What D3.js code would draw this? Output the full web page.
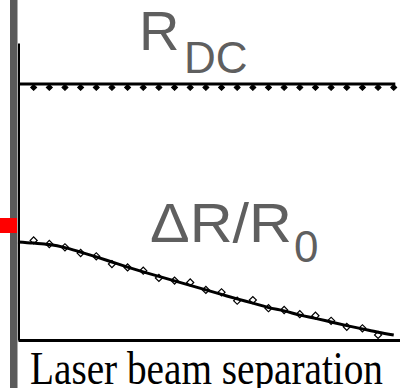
<!DOCTYPE html>
<html>
<head>
<meta charset="utf-8">
<script src="https://cdn.jsdelivr.net/npm/d3@7"></script>
<style>
  html, body { margin: 0; padding: 0; background: #fff; }
  svg { display: block; }
</style>
</head>
<body>
<svg id="chart" width="400" height="388"></svg>
<script>
// separation steps (arbitrary units)
const sepPoints = [1, 2, 3, 4, 5, 6, 7, 8, 9, 10, 11, 12, 13, 14, 15, 16, 17, 18, 19, 20, 21, 22, 23, 24];
const fitSteps = [0, 1, 2, 3, 4, 5, 6, 7, 8, 9, 10, 11, 12, 13, 14, 15, 16, 17, 18, 19, 20, 21, 22, 23, 24];

// R_DC measured and fitted (flat)
const rdcValues = [84.2, 84.2, 84.2, 84.2, 84.2, 84.2, 84.2, 84.2, 84.2, 84.2, 84.2, 84.2,
                   84.2, 84.2, 84.2, 84.2, 84.2, 84.2, 84.2, 84.2, 84.2, 84.2, 84.2, 84.2];
const rdcFit = [{ x: 0, y: 85.3 }, { x: 24.1, y: 85.3 }];

// dR/R0 measured (23 points) and fitted curve
const drValues = [33.2, 32.0, 30.9, 29.0, 27.9, 25.3, 24.2, 23.1, 20.7, 19.8, 19.2, 16.7,
                  15.9, 13.1, 13.3, 10.6, 10.0, 8.6, 8.1, 6.4, 4.4, 3.9, 1.7];
const drFit = [32.7, 32.3, 31.8, 30.8, 29.3, 27.7, 26.0, 24.3, 22.7, 21.2, 19.7, 18.2, 16.7,
               15.2, 13.7, 12.3, 10.8, 9.7, 8.3, 7.2, 6.0, 4.8, 3.7, 2.6, 1.7];

const xLabel = 'Laser beam separation';

const svg = d3.select('#chart');

const x = d3.scaleLinear().domain([0, 24.4]).range([18, 400]);
const y = d3.scaleLinear().domain([0, 99]).range([340, 43]);

// gray frame bar on the left
svg.append('rect')
  .attr('x', 10).attr('y', 0)
  .attr('width', 7.5).attr('height', 388)
  .attr('fill', '#5a5a5a');

// axes (no ticks)
svg.append('g')
  .attr('transform', 'translate(18.5,0)')
  .call(d3.axisLeft(y).tickValues([]).tickSizeOuter(0))
  .select('.domain').attr('stroke', '#000').attr('stroke-width', 2);

svg.append('g')
  .attr('transform', 'translate(0,340)')
  .call(d3.axisBottom(x).tickValues([]).tickSizeOuter(0))
  .select('.domain').attr('stroke', '#000').attr('stroke-width', 3);

// red marker on the left
svg.append('rect')
  .attr('x', 0).attr('y', 218)
  .attr('width', 17).attr('height', 15)
  .attr('fill', '#ff0000');

const diamond = d3.symbol().type(d3.symbolSquare).size(25);
const smallDiamond = d3.symbol().type(d3.symbolSquare).size(18);

// R_DC markers then line
svg.append('g')
  .selectAll('path')
  .data(rdcValues)
  .join('path')
  .attr('d', smallDiamond)
  .attr('transform', (d, i) => `translate(${x(sepPoints[i])},${y(d)}) rotate(45)`)
  .attr('fill', '#000')
  .attr('stroke', '#000')
  .attr('stroke-width', 1);

svg.append('path')
  .datum(rdcFit)
  .attr('d', d3.line().x(d => x(d.x)).y(d => y(d.y)))
  .attr('fill', 'none')
  .attr('stroke', '#000')
  .attr('stroke-width', 3);

// dR/R0 markers then fit
svg.append('g')
  .selectAll('path')
  .data(drValues)
  .join('path')
  .attr('d', diamond)
  .attr('transform', (d, i) => `translate(${x(sepPoints[i])},${y(d)}) rotate(45)`)
  .attr('fill', '#fff')
  .attr('stroke', '#000')
  .attr('stroke-width', 1.2);

svg.append('path')
  .datum(drFit)
  .attr('d', d3.line().x((d, i) => x(fitSteps[i])).y(d => y(d)).curve(d3.curveMonotoneX))
  .attr('fill', 'none')
  .attr('stroke', '#000')
  .attr('stroke-width', 3);

// labels
const gray = '#5f5f5f';
const rdc = svg.append('text')
  .attr('font-family', '"Liberation Sans", Arial, sans-serif')
  .attr('fill', gray);
rdc.append('tspan').attr('x', 139).attr('y', 50).attr('font-size', 56).text('R');
rdc.append('tspan').attr('x', 184).attr('y', 73).attr('font-size', 44).text('DC');

const dr = svg.append('text')
  .attr('font-family', '"Liberation Sans", Arial, sans-serif')
  .attr('fill', gray);
dr.append('tspan').attr('x', 150).attr('y', 242).attr('font-size', 56)
  .attr('textLength', 142).attr('lengthAdjust', 'spacingAndGlyphs').text('\u0394R/R');
dr.append('tspan').attr('x', 294).attr('y', 262).attr('font-size', 44).text('0');

svg.append('text')
  .attr('x', 30).attr('y', 384)
  .attr('font-family', '"Liberation Serif", "Times New Roman", serif')
  .attr('font-size', 46)
  .attr('fill', '#000')
  .attr('textLength', 353)
  .attr('lengthAdjust', 'spacingAndGlyphs')
  .text(xLabel);
</script>
</body>
</html>
